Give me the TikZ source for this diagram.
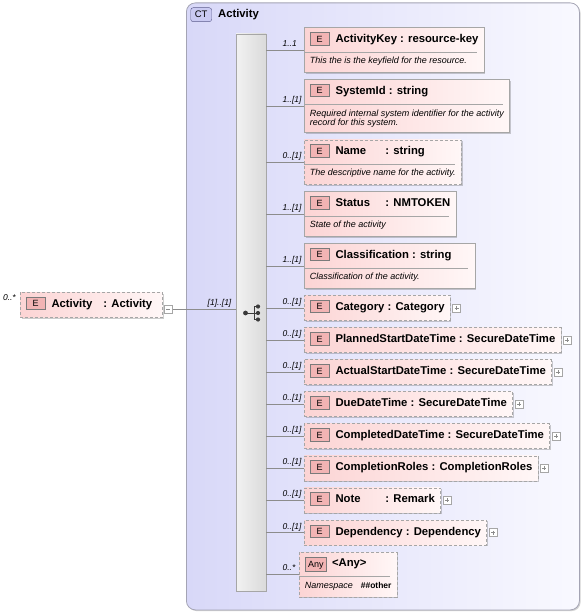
\documentclass[tikz,border=0pt]{standalone}
\usepackage{fontspec}
\setmainfont{Liberation Sans}
\usetikzlibrary{positioning,shapes.multipart,shadows}
\definecolor{ctlav}{HTML}{D8D8F8}
\definecolor{ctwhite}{HTML}{F9F9FF}
\definecolor{ctline}{HTML}{A4A4B4}
\definecolor{ctbadgefill}{HTML}{CACAF2}
\definecolor{ctbadgeline}{HTML}{5C5C8C}
\definecolor{elpink}{HTML}{FCD4D4}
\definecolor{elwhite}{HTML}{FFF7F7}
\definecolor{boxgray}{HTML}{A6A6A6}
\definecolor{linegray}{HTML}{8C8C8C}
\definecolor{badgefill}{HTML}{F2B4B4}
\definecolor{badgeline}{HTML}{7A7A7A}
\definecolor{seqlight}{HTML}{F2F2F2}
\definecolor{seqdark}{HTML}{DADADA}
\definecolor{symgray}{HTML}{3A3A3A}

\setlength{\fboxsep}{1.5pt}
\setlength{\fboxrule}{.6pt}
\newcommand{\hdfont}{\fontsize{11.3}{13}\selectfont\bfseries}
\newcommand{\docfont}{\fontsize{9}{9.5}\selectfont\mdseries\itshape}
\newcommand{\cardfont}{\fontsize{8.5}{10}\selectfont\mdseries\itshape}
\newcommand{\ebadge}{\raisebox{-0.6pt}{\fcolorbox{badgeline}{badgefill}{\makebox[15.5pt]{\rule{0pt}{9pt}\raisebox{1pt}{\fontsize{9}{9}\selectfont\mdseries E}}}}}
\newcommand{\anybadge}{\raisebox{-0.6pt}{\fcolorbox{badgeline}{badgefill}{\makebox[18pt]{\rule{0pt}{8pt}\fontsize{9}{9}\selectfont\mdseries Any}}}}
\newcommand{\hdstrut}{\rule[-10pt]{0pt}{25pt}}
\newcommand{\dochdstrut}{\rule[-9.5pt]{0pt}{24pt}}
\newcommand{\docstrut}{\rule[-8.5pt]{0pt}{19.5pt}}

\begin{document}
\begin{tikzpicture}[x=1pt, y=-1pt,
    ctframe/.style={draw=ctline, line width=.8pt, rounded corners=9pt, left color=ctlav, right color=ctwhite,
      drop shadow={shadow xshift=1.2pt, shadow yshift=-1.2pt, opacity=.25, fill=black!70}},
    ctbadge/.style={draw=ctbadgeline, fill=ctbadgefill, rounded corners=2.5pt, minimum width=21pt,
      minimum height=14pt, inner sep=0pt, font=\fontsize{9.5}{10}\selectfont},
    seqbar/.style={draw=boxgray, line width=.7pt, left color=seqlight, right color=seqdark,
      drop shadow={shadow xshift=1.4pt, shadow yshift=-1.4pt, opacity=.28, fill=black!70}},
    elem/.style={draw=boxgray, line width=.6pt, left color=elpink, right color=elwhite,
      inner xsep=5.5pt, inner ysep=0pt, font=\hdfont,
      drop shadow={shadow xshift=1.4pt, shadow yshift=-1.4pt, opacity=.28, fill=black!70}},
    optional/.style={dash pattern=on 3pt off 2pt},
    docbox/.style={rectangle split, rectangle split parts=2, rectangle split draw splits=false,
      rectangle split part align={left}},
    beneath/.style={below=6.5pt of #1.south west, anchor=north west},
    sep/.style={draw=boxgray, line width=.6pt},
    conn/.style={draw=linegray, line width=.6pt},
    card/.style={anchor=base west, inner sep=0pt, font=\cardfont, xshift=16pt, yshift=3.5pt},
    togglebox/.style={draw=boxgray, fill=white, line width=.5pt, minimum size=8pt, inner sep=0pt},
    expand/.style={togglebox, path picture={
      \draw[linegray, line width=.5pt] ([xshift=2pt]path picture bounding box.west) -- ([xshift=-2pt]path picture bounding box.east)
        ([yshift=-2pt]path picture bounding box.north) -- ([yshift=2pt]path picture bounding box.south);}},
    collapse/.style={togglebox, path picture={
      \draw[linegray, line width=.5pt] ([xshift=2pt]path picture bounding box.west) -- ([xshift=-2pt]path picture bounding box.east);}}]
  \useasboundingbox (0,0) rectangle (584,612);

  % complex type frame
  \node[ctframe, anchor=north west, minimum width=393pt, minimum height=607pt] (ct) at (186,2.5) {};
  \node[ctbadge, anchor=north west] (ctb) at (190.5,7.5) {CT};
  \node[right=6pt of ctb, font=\hdfont, inner sep=0pt] (cttitle) {Activity};

  % sequence
  \node[seqbar, minimum width=30pt, minimum height=557pt] (seq) at (251,312.5) {};
  \draw[symgray, line width=.9pt] (245.5,313) -- (254,313) (254,306.5) -- (254,319.5)
    (254,306.5) -- (258,306.5) (254,313) -- (258,313) (254,319.5) -- (258,319.5);
  \fill[symgray] (245.5,313) circle (2.4pt) (258,306.5) circle (2.1pt) (258,313) circle (2.1pt) (258,319.5) circle (2.1pt);

  % root element
  \node[elem, optional, anchor=north west] (act) at (20,292)
    {\ebadge\hspace{6pt}\makebox[52pt][l]{Activity}: Activity\hspace{5pt}\hdstrut};
  \node[font=\cardfont, anchor=base east, inner sep=0pt, xshift=-4pt, yshift=-8pt] (actcard) at (act.north west) {0..*};
  \node[collapse, right=1pt of act, yshift=-4pt] (actm) {};
  \draw[conn] (actm.east) -- (actm.east -| seq.west)
    node[font=\cardfont, anchor=base east, inner sep=0pt, xshift=-4pt, yshift=3.5pt] {[1]..[1]};

  % children
  \node[elem, docbox, anchor=north west] (key) at (304,27.5)
    {\ebadge\hspace{6pt}ActivityKey : resource-key\dochdstrut
     \nodepart{two}\docfont This the is the keyfield for the resource.\docstrut};
  \node[elem, docbox, beneath=key] (sysid)
    {\ebadge\hspace{6pt}SystemId : string\dochdstrut
     \nodepart{two}\docfont\begin{tabular}[t]{@{}l@{}}\rule{0pt}{12pt}Required internal system identifier for the activity\\
       record for this system.\rule[-6.5pt]{0pt}{0pt}\end{tabular}};
  \node[elem, docbox, optional, beneath=sysid] (name)
    {\ebadge\hspace{6pt}\makebox[50pt][l]{Name}: string\dochdstrut
     \nodepart{two}\docfont The descriptive name for the activity.\docstrut};
  \node[elem, docbox, beneath=name] (status)
    {\ebadge\hspace{6pt}\makebox[50pt][l]{Status}: NMTOKEN\dochdstrut
     \nodepart{two}\docfont State of the activity\docstrut};
  \node[elem, docbox, beneath=status] (class)
    {\ebadge\hspace{6pt}Classification : string\hspace{18pt}\dochdstrut
     \nodepart{two}\docfont Classification of the activity.\docstrut};
  \node[elem, optional, beneath=class] (cat) {\ebadge\hspace{6pt}Category : Category\hdstrut};
  \node[elem, optional, beneath=cat] (planned) {\ebadge\hspace{6pt}PlannedStartDateTime : SecureDateTime\hdstrut};
  \node[elem, optional, beneath=planned] (actual) {\ebadge\hspace{6pt}ActualStartDateTime : SecureDateTime\hdstrut};
  \node[elem, optional, beneath=actual] (due) {\ebadge\hspace{6pt}DueDateTime : SecureDateTime\hdstrut};
  \node[elem, optional, beneath=due] (completed) {\ebadge\hspace{6pt}CompletedDateTime : SecureDateTime\hdstrut};
  \node[elem, optional, beneath=completed] (roles) {\ebadge\hspace{6pt}CompletionRoles : CompletionRoles\hdstrut};
  \node[elem, optional, beneath=roles] (note) {\ebadge\hspace{6pt}\makebox[50pt][l]{Note}: Remark\hdstrut};
  \node[elem, optional, beneath=note] (dep) {\ebadge\hspace{6pt}Dependency : Dependency\hdstrut};
  \node[elem, docbox, optional, beneath=dep, xshift=-5pt] (any)
    {\anybadge\hspace{5pt}<Any>\dochdstrut
     \nodepart{two}{\docfont Namespace}\hspace{8pt}{\fontsize{8.5}{9}\selectfont\bfseries\#\#other}\docstrut};

  % separators
  \draw[sep] (key.text split west) -- ([xshift=-7pt]key.text split east);
  \draw[sep] (sysid.text split west) -- ([xshift=-7pt]sysid.text split east);
  \draw[sep] (name.text split west) -- ([xshift=-7pt]name.text split east);
  \draw[sep] (status.text split west) -- ([xshift=-7pt]status.text split east);
  \draw[sep] (class.text split west) -- ([xshift=-7pt]class.text split east);
  \draw[sep] (any.text split west) -- ([xshift=-7pt]any.text split east);

  % expand boxes
  \node[expand, right=2pt of cat] (catx) {};
  \node[expand, right=2pt of planned] (plannedx) {};
  \node[expand, right=2pt of actual] (actualx) {};
  \node[expand, right=2pt of due] (duex) {};
  \node[expand, right=2pt of completed] (completedx) {};
  \node[expand, right=2pt of roles] (rolesx) {};
  \node[expand, right=2pt of note] (notex) {};
  \node[expand, right=2pt of dep] (depx) {};

  % connectors
  \draw[conn] (seq.east |- key.west) node[card] {1..1} -- (key.west);
  \draw[conn] (seq.east |- sysid.west) node[card] {1..[1]} -- (sysid.west);
  \draw[conn] (seq.east |- name.west) node[card] {0..[1]} -- (name.west);
  \draw[conn] (seq.east |- status.west) node[card] {1..[1]} -- (status.west);
  \draw[conn] (seq.east |- class.west) node[card] {1..[1]} -- (class.west);
  \draw[conn] (seq.east |- cat.west) node[card] {0..[1]} -- (cat.west);
  \draw[conn] (seq.east |- planned.west) node[card] {0..[1]} -- (planned.west);
  \draw[conn] (seq.east |- actual.west) node[card] {0..[1]} -- (actual.west);
  \draw[conn] (seq.east |- due.west) node[card] {0..[1]} -- (due.west);
  \draw[conn] (seq.east |- completed.west) node[card] {0..[1]} -- (completed.west);
  \draw[conn] (seq.east |- roles.west) node[card] {0..[1]} -- (roles.west);
  \draw[conn] (seq.east |- note.west) node[card] {0..[1]} -- (note.west);
  \draw[conn] (seq.east |- dep.west) node[card] {0..[1]} -- (dep.west);
  \draw[conn] (seq.east |- any.west) node[card] {0..*} -- (any.west);
\end{tikzpicture}
\end{document}
